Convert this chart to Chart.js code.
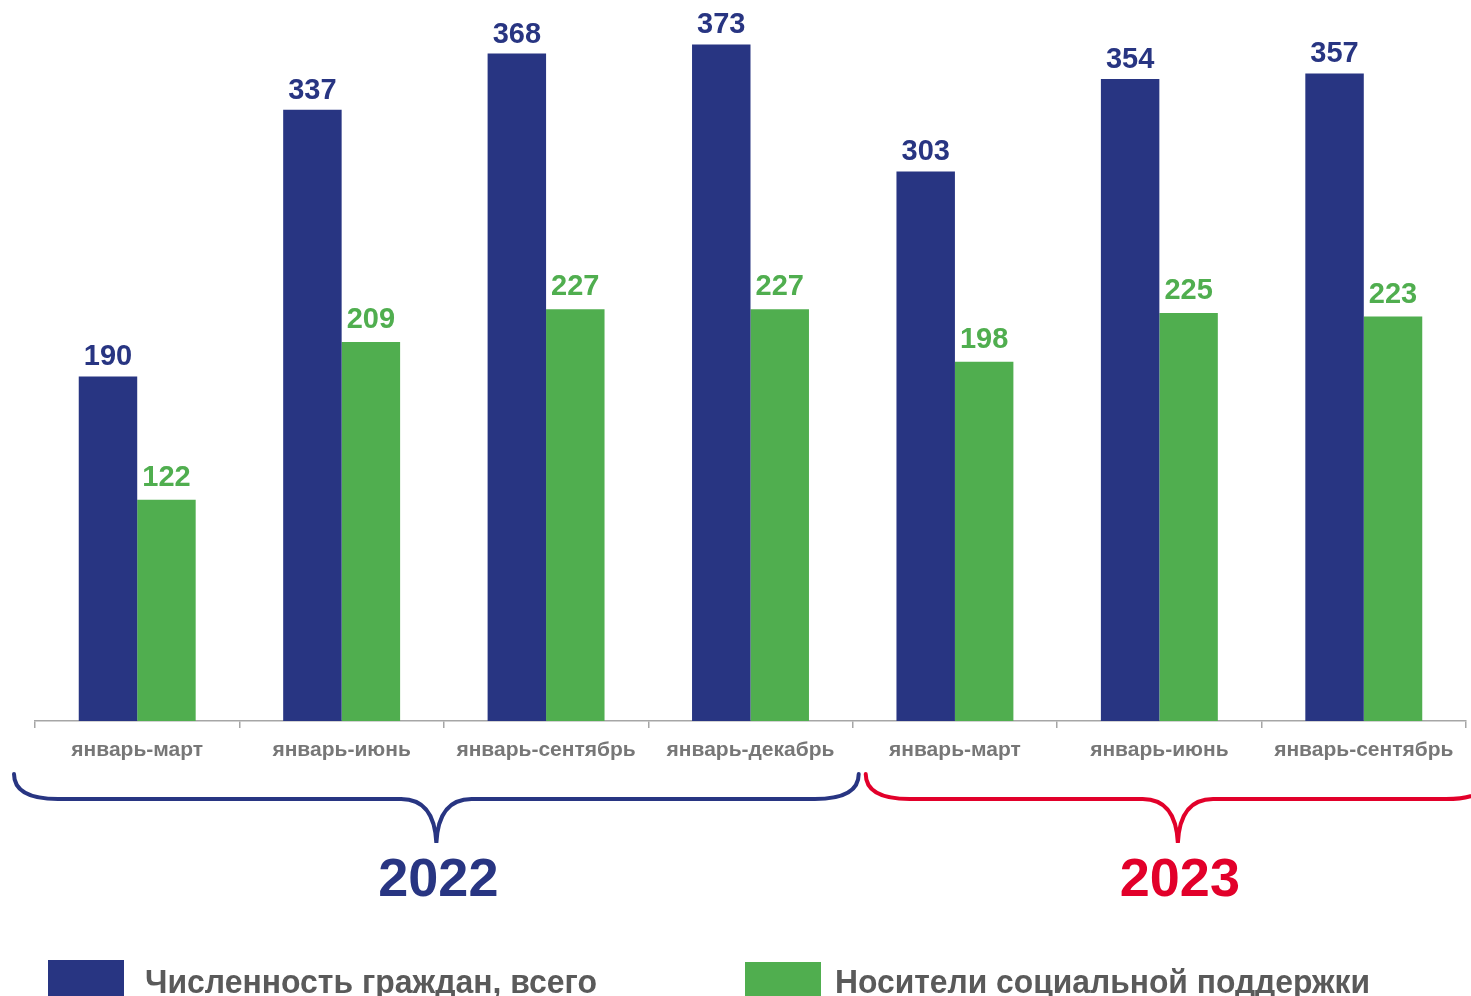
<!DOCTYPE html>
<html>
<head>
<meta charset="utf-8">
<script src="https://cdn.jsdelivr.net/npm/chart.js@4"></script>
<style>
  body { margin: 0; background: #fff; overflow: hidden; }
  #wrap { width: 1471px; height: 996px; position: relative; }
</style>
</head>
<body>
<div id="wrap"><canvas id="barChart"></canvas></div>
<script>
var periods = ["январь-март", "январь-июнь", "январь-сентябрь", "январь-декабрь", "январь-март", "январь-июнь", "январь-сентябрь"];
var totalCitizens = [190, 337, 368, 373, 303, 354, 357];
var supportHolders = [122, 209, 227, 227, 198, 225, 223];
var seriesNames = ["Численность граждан, всего", "Носители социальной поддержки"];
var years = ["2022", "2023"];
var yearGroups = [[0, 3], [4, 6]];

var navy = "#283582";
var green = "#50ae4f";
var red = "#e2002a";
var grey = "#777777";

// value labels above bars
var valueLabels = {
    id: 'valueLabels',
    afterDatasetsDraw: function(chart) {
        var ctx = chart.ctx;
        ctx.save();
        ctx.font = "bold 29px 'Liberation Sans', Arial";
        ctx.textAlign = 'center';
        ctx.textBaseline = 'alphabetic';
        chart.data.datasets.forEach(function(ds, i) {
            var meta = chart.getDatasetMeta(i);
            ctx.fillStyle = ds.backgroundColor;
            meta.data.forEach(function(bar, j) {
                ctx.fillText(ds.data[j], bar.x, bar.y - (i ? 14 : 11));
            });
        });
        ctx.restore();
    }
};

function drawBrace(ctx, x1, x2, xm, yTop, yLine, yTip, r) {
    ctx.beginPath();
    ctx.moveTo(x1, yTop);
    ctx.quadraticCurveTo(x1, yLine, x1 + r * 2, yLine);
    ctx.lineTo(xm - r * 1.6, yLine);
    ctx.quadraticCurveTo(xm - 2, yLine, xm, yTip);
    ctx.quadraticCurveTo(xm + 2, yLine, xm + r * 1.6, yLine);
    ctx.lineTo(x2 - r * 2, yLine);
    ctx.quadraticCurveTo(x2, yLine, x2, yTop);
    ctx.stroke();
}

// braces, years and legend under the axis
var bottomDecor = {
    id: 'bottomDecor',
    afterDraw: function(chart) {
        var ctx = chart.ctx;
        var xs = chart.scales.x;
        var half = (xs.getPixelForValue(1) - xs.getPixelForValue(0)) / 2;
        var braceColors = [navy, red];
        var b0 = [[-21, 6], [13, 24]];
        ctx.save();
        ctx.lineWidth = 4;
        ctx.lineCap = 'round';
        yearGroups.forEach(function(g, i) {
            var x1 = xs.getPixelForValue(g[0]) - half + b0[i][0];
            var x2 = xs.getPixelForValue(g[1]) + half + b0[i][1];
            var xm = (x1 + x2) / 2;
            ctx.strokeStyle = braceColors[i];
            drawBrace(ctx, x1, x2, xm, 774, 799, 843, 22);
            ctx.fillStyle = braceColors[i];
            ctx.font = "bold 54px 'Liberation Sans', Arial";
            ctx.textAlign = 'center';
            ctx.textBaseline = 'alphabetic';
            ctx.fillText(years[i], xm + 2, 896);
        });
        // legend
        var legendX = [48, 745];
        var legendTop = [960, 962];
        var textW = [452, 535];
        var cols = [navy, green];
        ctx.font = "bold 34px 'Liberation Sans', Arial";
        ctx.textAlign = 'left';
        for (var i = 0; i < 2; i++) {
            ctx.fillStyle = cols[i];
            ctx.fillRect(legendX[i], legendTop[i], 76, 40);
            ctx.fillStyle = "#5a5a5a";
            ctx.fillText(seriesNames[i], legendX[i] + 97 - (i ? 7 : 0), 993, textW[i]);
        }
        ctx.restore();
    }
};

window.onload = function() {
    var ctx = document.getElementById("barChart").getContext('2d');
    var myBarChart = new Chart(ctx, {
        type: 'bar',
        data: {
            labels: periods,
            datasets: [
                { label: seriesNames[0], data: totalCitizens, backgroundColor: navy },
                { label: seriesNames[1], data: supportHolders, backgroundColor: green }
            ]
        },
        options: {
            responsive: false,
            animation: false,
            devicePixelRatio: 1,
            categoryPercentage: 0.572,
            barPercentage: 1.0,
            layout: { padding: { left: 35, right: 5, top: 10, bottom: 0 } },
            plugins: { legend: { display: false }, tooltip: { enabled: false } },
            scales: {
                x: {
                    afterFit: function(scale) { scale.height = 275; },
                    grid: { offset: true, drawOnChartArea: false, tickLength: 7, color: '#a6a6a6', lineWidth: 1.5 },
                    border: { color: '#a6a6a6', width: 1.5 },
                    ticks: {
                        color: grey,
                        padding: 10,
                        maxRotation: 0,
                        autoSkip: false,
                        font: { family: "'Liberation Sans', Arial", size: 21, weight: 'bold' }
                    }
                },
                y: {
                    display: false,
                    min: 0,
                    max: 392
                }
            }
        },
        plugins: [valueLabels, bottomDecor]
    });
};
</script>
<script>
document.getElementById('barChart').width = 1471;
document.getElementById('barChart').height = 996;
</script>
</body>
</html>
